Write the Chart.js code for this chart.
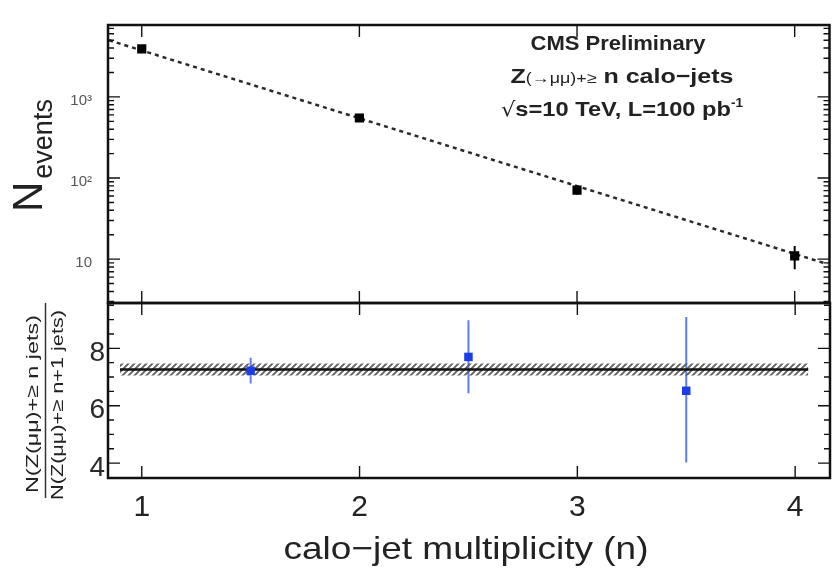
<!DOCTYPE html>
<html lang="en">
<head>
<meta charset="UTF-8">
<title>Z+jets calo-jet multiplicity</title>
<style>
  body { margin: 0; background: #fff; }
  #wrap { position: relative; width: 836px; height: 568px; }
  canvas { position: absolute; left: 0; top: 0; }
</style>
</head>
<body>
<div id="wrap">
  <canvas id="upper" width="836" height="568"></canvas>
  <canvas id="lower" width="836" height="568"></canvas>
</div>
<script src="https://cdn.jsdelivr.net/npm/chart.js@4"></script>
<script>
  // upper panel: events with >= n jets
  const nJets = [1, 2, 3, 4];
  const nEvents = [3900, 550, 71, 11];
  const nEventsErr = [62, 23, 8.5, 3.5];
  const expFitX = [0.85, 4.15];
  const expFitY = [4990, 8.7];
  const logTicks = [10, 100, 1000];
  const logTickLabels = ['10', '10²', '10³'];

  // lower panel: ratio N(>=n) / N(>=n+1)
  const ratioX = [1.5, 2.5, 3.5];
  const ratio = [7.22, 7.70, 6.52];
  const ratioErrUp = [0.45, 1.28, 2.57];
  const ratioErrDown = [0.45, 1.27, 2.50];
  const constFitX = [0.9, 4.06];
  const constFit = 7.26;
  const constFitLo = 7.05;
  const constFitHi = 7.47;
  const ratioTicks = [4, 6, 8];
  const xTicks = [1, 2, 3, 4];

  const X_MIN = 0.845, X_MAX = 4.16;

  Chart.defaults.font.family = '"Liberation Sans", Arial, sans-serif';
  Chart.defaults.color = '#222';

  function hatchPattern() {
    const c = document.createElement('canvas');
    c.width = 6; c.height = 6;
    const g = c.getContext('2d');
    g.strokeStyle = '#5c5c5c';
    g.lineWidth = 1.8;
    g.beginPath();
    g.moveTo(0, 6); g.lineTo(6, 0);
    g.moveTo(-1, 1); g.lineTo(1, -1);
    g.moveTo(5, 7); g.lineTo(7, 5);
    g.stroke();
    return g.createPattern(c, 'repeat');
  }

  // draws a run of text pieces, squeezed/stretched to a given width
  function drawRich(ctx, parts, x, y, width, align) {
    let total = 0;
    parts.forEach(p => { ctx.font = p.font; p.w = ctx.measureText(p.t).width; total += p.w; });
    const sx = width ? width / total : 1;
    ctx.save();
    ctx.translate(x, y);
    ctx.scale(sx, 1);
    let cx = align === 'center' ? -total / 2 : 0;
    ctx.textBaseline = 'alphabetic';
    ctx.textAlign = 'left';
    parts.forEach(p => {
      ctx.font = p.font;
      ctx.fillText(p.t, cx, p.dy || 0);
      cx += p.w;
    });
    ctx.restore();
  }

  function frameTicks(yMajor, yMinor) {
    return {
      id: 'frameTicks',
      afterDatasetsDraw(chart) {
        const { ctx, chartArea: a, scales } = chart;
        ctx.save();
        ctx.strokeStyle = '#111';
        ctx.lineWidth = 1.4;
        ctx.beginPath();
        xTicks.forEach(v => {
          const px = scales.x.getPixelForValue(v);
          ctx.moveTo(px, a.top); ctx.lineTo(px, a.top + 12);
          ctx.moveTo(px, a.bottom); ctx.lineTo(px, a.bottom - 12);
        });
        yMajor.forEach(v => {
          const py = scales.y.getPixelForValue(v);
          ctx.moveTo(a.left, py); ctx.lineTo(a.left + 12, py);
          ctx.moveTo(a.right, py); ctx.lineTo(a.right - 12, py);
        });
        yMinor.forEach(v => {
          const py = scales.y.getPixelForValue(v);
          if (py <= a.top + 1 || py >= a.bottom - 1) return;
          ctx.moveTo(a.left, py); ctx.lineTo(a.left + 6, py);
          ctx.moveTo(a.right, py); ctx.lineTo(a.right - 6, py);
        });
        ctx.stroke();
        ctx.lineWidth = 2.5;
        ctx.strokeRect(a.left, a.top, a.right - a.left, a.bottom - a.top);
        ctx.restore();
      }
    };
  }

  function errorBars(id, xs, ys, up, down, color) {
    return {
      id: id,
      beforeDatasetsDraw(chart) {
        const { ctx, scales } = chart;
        ctx.save();
        ctx.strokeStyle = color;
        ctx.lineWidth = 2;
        ctx.beginPath();
        xs.forEach((x, i) => {
          const px = scales.x.getPixelForValue(x);
          ctx.moveTo(px, scales.y.getPixelForValue(ys[i] + up[i]));
          ctx.lineTo(px, scales.y.getPixelForValue(ys[i] - down[i]));
        });
        ctx.stroke();
        ctx.restore();
      }
    };
  }

  // minor tick values for the log axis
  const logMinor = [];
  [1, 10, 100, 1000].forEach(d => { for (let k = 2; k <= 9; k++) logMinor.push(k * d); });
  const linMinor = [];
  for (let v = 3.5; v <= 9.5; v += 0.5) if (!ratioTicks.includes(v)) linMinor.push(v);

  const upperText = {
    id: 'upperText',
    afterDraw(chart) {
      const ctx = chart.ctx;
      ctx.save();
      ctx.fillStyle = '#222';
      drawRich(ctx, [{ t: 'CMS Preliminary', font: 'bold 21px "Liberation Sans", Arial' }], 618, 50, 175, 'center');
      drawRich(ctx, [
        { t: 'Z', font: 'bold 21px "Liberation Sans", Arial' },
        { t: '(→μμ)+≥', font: '15px "Liberation Sans", Arial' },
        { t: ' n calo−jets', font: 'bold 21px "Liberation Sans", Arial' }
      ], 622, 83, 223, 'center');
      drawRich(ctx, [
        { t: '√', font: '20px "DejaVu Sans", sans-serif' },
        { t: 's=10 TeV, L=100 pb', font: 'bold 21px "Liberation Sans", Arial' },
        { t: '-1', font: 'bold 12px "Liberation Sans", Arial', dy: -9 }
      ], 622, 116, 242, 'center');

      // y title N_events
      ctx.translate(42, 212);
      ctx.rotate(-Math.PI / 2);
      ctx.font = '42px "Liberation Sans", Arial';
      ctx.fillText('N', 0, 0);
      const nw = ctx.measureText('N').width;
      ctx.font = '27px "Liberation Sans", Arial';
      ctx.fillText('events', nw + 3, 10);
      ctx.restore();
    }
  };

  const lowerText = {
    id: 'lowerText',
    afterDraw(chart) {
      const ctx = chart.ctx;
      ctx.save();
      ctx.fillStyle = '#222';
      drawRich(ctx, [{ t: 'calo−jet multiplicity (n)', font: '32px "Liberation Sans", Arial' }], 466, 559, 365, 'center');

      // y title: ratio as a fraction
      ctx.save();
      ctx.translate(38, 404);
      ctx.rotate(-Math.PI / 2);
      drawRich(ctx, [{ t: 'N(Z(μμ)+≥ n jets)', font: '17px "Liberation Sans", Arial' }], 0, 0, 178, 'center');
      ctx.restore();
      ctx.save();
      ctx.translate(63, 405);
      ctx.rotate(-Math.PI / 2);
      drawRich(ctx, [{ t: 'N(Z(μμ)+≥ n+1 jets)', font: '17px "Liberation Sans", Arial' }], 0, 0, 190, 'center');
      ctx.restore();
      ctx.strokeStyle = '#333';
      ctx.lineWidth = 1.5;
      ctx.beginPath();
      ctx.moveTo(45.5, 303); ctx.lineTo(45.5, 498);
      ctx.stroke();
      ctx.restore();
    }
  };

  new Chart(document.getElementById('upper'), {
    type: 'line',
    data: {
      datasets: [
        {
          data: nJets.map((x, i) => ({ x: x, y: nEvents[i] })),
          showLine: false,
          pointStyle: 'rect',
          pointRadius: 6.5,
          backgroundColor: '#000',
          borderWidth: 0,
          order: 0
        },
        {
          data: expFitX.map((x, i) => ({ x: x, y: expFitY[i] })),
          borderColor: '#2a2a2a',
          borderWidth: 2.5,
          borderDash: [4, 4],
          pointRadius: 0,
          fill: false,
          order: 1
        }
      ]
    },
    options: {
      responsive: false,
      animation: false,
      layout: { padding: { top: 13, right: 1, bottom: 265, left: 0 } },
      plugins: { legend: { display: false }, tooltip: { enabled: false } },
      scales: {
        x: { type: 'linear', min: X_MIN, max: X_MAX, display: false },
        y: {
          type: 'logarithmic',
          min: 2.88,
          max: 7700,
          afterFit: s => { s.width = 108; },
          afterBuildTicks: s => { s.ticks = logTicks.map(v => ({ value: v })); },
          grid: { display: false, drawTicks: false },
          border: { display: false },
          ticks: {
            callback: (v, i) => logTickLabels[i],
            font: { size: 15 },
            color: '#555',
            padding: 16,
            labelOffset: 4
          }
        }
      }
    },
    plugins: [
      errorBars('errUpper', nJets, nEvents, nEventsErr, nEventsErr, '#000'),
      frameTicks(logTicks, logMinor),
      upperText
    ]
  });

  new Chart(document.getElementById('lower'), {
    type: 'line',
    data: {
      datasets: [
        {
          data: constFitX.map(x => ({ x: x, y: constFitLo })),
          borderWidth: 0,
          pointRadius: 0,
          fill: false,
          order: 3
        },
        {
          data: constFitX.map(x => ({ x: x, y: constFitHi })),
          borderWidth: 0,
          pointRadius: 0,
          backgroundColor: hatchPattern(),
          fill: '-1',
          order: 3
        },
        {
          data: constFitX.map(x => ({ x: x, y: constFit })),
          borderColor: '#111',
          borderWidth: 2.5,
          pointRadius: 0,
          fill: false,
          order: 2
        },
        {
          data: ratioX.map((x, i) => ({ x: x, y: ratio[i] })),
          showLine: false,
          pointStyle: 'rect',
          pointRadius: 6,
          backgroundColor: '#1c3ce6',
          borderWidth: 0,
          order: 0
        }
      ]
    },
    options: {
      responsive: false,
      animation: false,
      layout: { padding: { top: 303, right: 1, bottom: 0, left: 0 } },
      plugins: { legend: { display: false }, tooltip: { enabled: false } },
      scales: {
        x: {
          type: 'linear',
          min: X_MIN,
          max: X_MAX,
          afterFit: s => { s.height = 90; },
          afterBuildTicks: s => { s.ticks = xTicks.map(v => ({ value: v })); },
          grid: { display: false, drawTicks: false },
          border: { display: false },
          ticks: { font: { size: 30 }, color: '#222', padding: 12, maxRotation: 0 }
        },
        y: {
          type: 'linear',
          min: 3.48,
          max: 9.58,
          afterFit: s => { s.width = 108; },
          afterBuildTicks: s => { s.ticks = ratioTicks.map(v => ({ value: v })); },
          grid: { display: false, drawTicks: false },
          border: { display: false },
          ticks: { font: { size: 28 }, color: '#2a2a2a', padding: 3, labelOffset: 5 }
        }
      }
    },
    plugins: [
      errorBars('errLower', ratioX, ratio, ratioErrUp, ratioErrDown, '#5f7cf2'),
      frameTicks(ratioTicks, linMinor),
      lowerText
    ]
  });
</script>
</body>
</html>
